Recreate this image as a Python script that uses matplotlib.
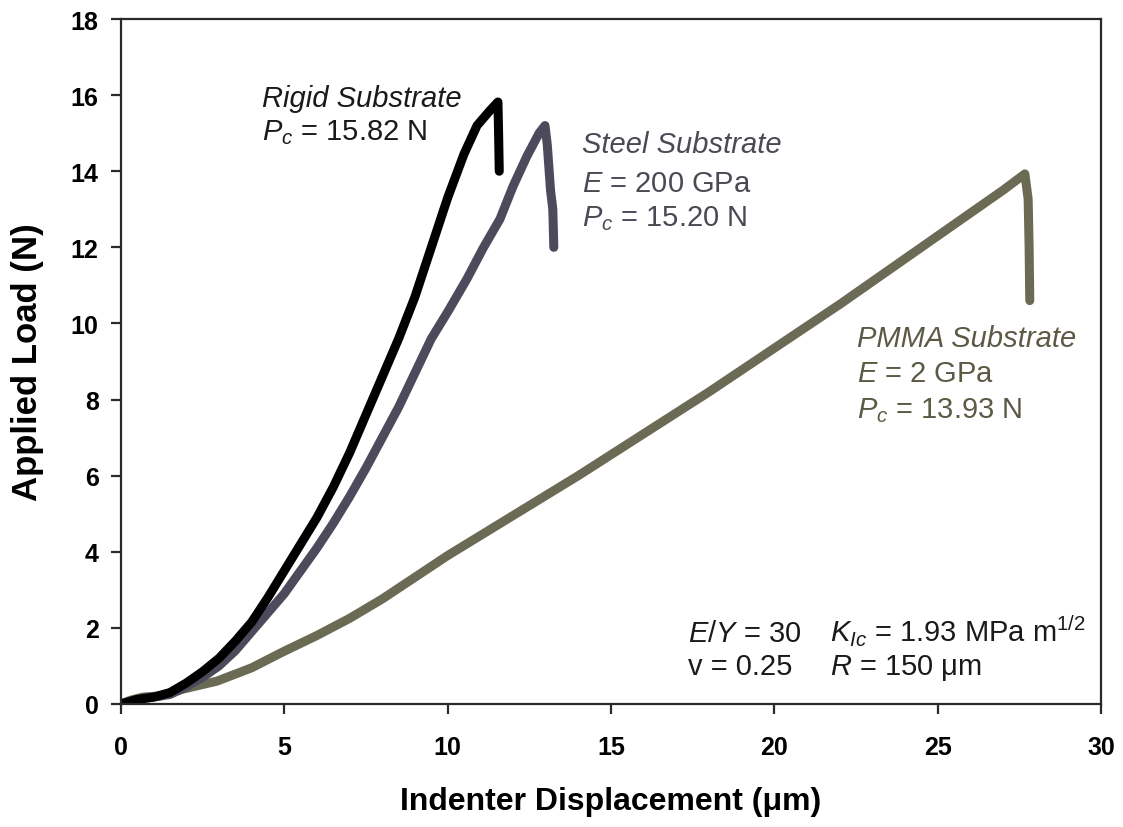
import matplotlib
matplotlib.use("Agg")
import matplotlib.pyplot as plt

plt.rcParams['font.family'] = ['Liberation Sans', 'DejaVu Sans']
plt.rcParams['mathtext.fontset'] = 'custom'
plt.rcParams['mathtext.rm'] = 'Liberation Sans'
plt.rcParams['mathtext.it'] = 'Liberation Sans:italic'
plt.rcParams['mathtext.bf'] = 'Liberation Sans:bold'

# displacement (um) / load (N)
rigid_x = [0, 0.5, 1.0, 1.5, 2.0, 2.5, 3.0, 3.5, 4.0, 4.5, 5.0, 5.5, 6.0, 6.5, 7.0,
           7.5, 8.0, 8.5, 9.0, 9.5, 10.0, 10.5, 10.9, 11.3, 11.54, 11.56, 11.58]
rigid_y = [0, 0.12, 0.18, 0.3, 0.55, 0.85, 1.2, 1.65, 2.15, 2.8, 3.5, 4.2, 4.9, 5.7, 6.6,
           7.6, 8.6, 9.6, 10.7, 12.0, 13.3, 14.45, 15.2, 15.6, 15.82, 15.0, 14.0]

steel_x = [0, 0.5, 1.0, 1.5, 2.0, 2.5, 3.0, 3.5, 4.0, 4.5, 5.0, 5.5, 6.0, 6.5, 7.0, 7.5,
           8.0, 8.5, 9.0, 9.5, 10.0, 10.59, 11.1, 11.6, 12.0, 12.43, 12.8, 12.98,
           13.05, 13.15, 13.22, 13.25]
steel_y = [0, 0.12, 0.18, 0.25, 0.45, 0.7, 1.0, 1.4, 1.9, 2.4, 2.9, 3.5, 4.1, 4.75, 5.45, 6.2,
           7.0, 7.8, 8.7, 9.6, 10.3, 11.17, 12.0, 12.74, 13.6, 14.4, 15.0, 15.2,
           14.7, 13.5, 13.0, 12.0]

pmma_x = [0, 0.3, 0.67, 1.2, 1.9, 2.94, 4, 4.96, 6, 7, 8, 10, 12, 14, 16, 18, 20,
          22, 24, 25, 26, 27, 27.67, 27.77, 27.8, 27.82]
pmma_y = [0, 0.1, 0.18, 0.21, 0.39, 0.6, 0.95, 1.37, 1.8, 2.25, 2.76, 3.9, 4.95, 6.0, 7.1,
          8.2, 9.35, 10.5, 11.7, 12.3, 12.9, 13.5, 13.93, 13.27, 12.0, 10.6]

fig = plt.figure(figsize=(11.23, 8.28), dpi=100)
ax = fig.add_axes([0.1077, 0.1486, 0.8727, 0.8272])

lw = 6.5
ax.plot(pmma_x, pmma_y, color='#6b6b55', lw=lw, solid_capstyle='round', solid_joinstyle='round')
ax.plot(steel_x, steel_y, color='#4b4b5b', lw=lw, solid_capstyle='round', solid_joinstyle='round')
ax.plot(rigid_x, rigid_y, color='black', lw=lw, solid_capstyle='round', solid_joinstyle='round')

ax.set_xlim(0, 30)
ax.set_ylim(0, 18)
ax.set_xticks(range(0, 31, 5))
ax.set_yticks(range(0, 19, 2))
for s in ax.spines.values():
    s.set_linewidth(1.6)
    s.set_color('#2a2a2a')
ax.tick_params(direction='out', length=7, width=1.6, color='#2a2a2a',
               labelsize=18, pad=9)
ax.tick_params(axis='x', pad=15)
for lab in ax.get_xticklabels() + ax.get_yticklabels():
    lab.set_fontweight('bold')

ax.set_xlabel('Indenter Displacement (\u03bcm)', fontsize=23, fontweight='bold', labelpad=20)
ax.set_ylabel('Applied Load (N)', fontsize=25, fontweight='bold', labelpad=19)

fs = 21
txt = dict(fontsize=fs, va='baseline', ha='left')
c1 = '#1a1a1a'
ax.text(4.32, 15.71, 'Rigid Substrate', color=c1, style='italic', **txt)
ax.text(4.32, 14.84, '$P_c$ = 15.82 N', color=c1, **txt)

c2 = '#4a4a55'
ax.text(14.11, 14.50, 'Steel Substrate', color=c2, style='italic', **txt)
ax.text(14.11, 13.48, '$E$ = 200 GPa', color=c2, **txt)
ax.text(14.11, 12.59, '$P_c$ = 15.20 N', color=c2, **txt)

c3 = '#5c5a44'
ax.text(22.53, 9.41, 'PMMA Substrate', color=c3, style='italic', **txt)
ax.text(22.53, 8.49, '$E$ = 2 GPa', color=c3, **txt)
ax.text(22.53, 7.54, '$P_c$ = 13.93 N', color=c3, **txt)

c4 = '#1a1a1a'
ax.text(17.36, 1.66, '$E/Y$ = 30', color=c4, **txt)
ax.text(17.36, 0.79, 'v = 0.25', color=c4, **txt)
ax.text(21.7, 1.66, '$K_{Ic}$ = 1.93 MPa m$^{\\mathrm{1/2}}$', color=c4, **txt)
ax.text(21.7, 0.79, '$R$ = 150 \u03bcm', color=c4, **txt)

fig.savefig('out.png', dpi=100)
